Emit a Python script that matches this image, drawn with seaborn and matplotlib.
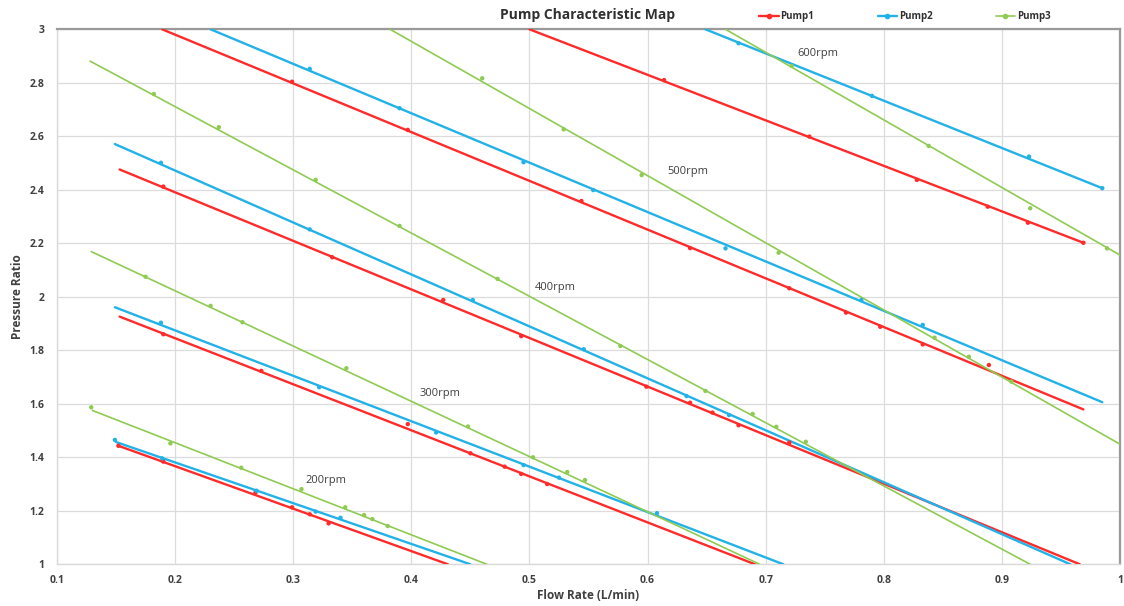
import numpy as np
import pandas as pd
import matplotlib
matplotlib.use("Agg")
import matplotlib.pyplot as plt
from matplotlib.lines import Line2D
from matplotlib.ticker import FixedLocator, FuncFormatter
import seaborn as sns

# ---------------- data ----------------
pumps = ["Pump1", "Pump2", "Pump3"]
rpms = ["200rpm", "300rpm", "400rpm", "500rpm", "600rpm"]

# measured points (markers), per pump and speed
p1_200_x = [0.152, 0.190, 0.268, 0.299, 0.314, 0.330]
p1_200_y = [1.443, 1.384, 1.268, 1.213, 1.187, 1.153]
p1_300_x = [0.190, 0.273, 0.397, 0.450, 0.479, 0.493, 0.515]
p1_300_y = [1.860, 1.723, 1.524, 1.415, 1.365, 1.338, 1.300]
p1_400_x = [0.190, 0.333, 0.427, 0.493, 0.599, 0.636, 0.655, 0.677, 0.720]
p1_400_y = [2.412, 2.148, 1.988, 1.853, 1.664, 1.604, 1.567, 1.520, 1.455]
p1_500_x = [0.299, 0.397, 0.544, 0.636, 0.720, 0.768, 0.797, 0.833, 0.889]
p1_500_y = [2.804, 2.624, 2.358, 2.182, 2.032, 1.941, 1.888, 1.822, 1.745]
p1_600_x = [0.614, 0.737, 0.828, 0.888, 0.922, 0.969]
p1_600_y = [2.810, 2.599, 2.437, 2.337, 2.277, 2.202]

p2_200_x = [0.149, 0.189, 0.269, 0.319, 0.340]
p2_200_y = [1.465, 1.396, 1.275, 1.197, 1.174]
p2_300_x = [0.188, 0.322, 0.421, 0.495, 0.525, 0.608]
p2_300_y = [1.903, 1.662, 1.493, 1.371, 1.324, 1.191]
p2_400_x = [0.188, 0.314, 0.452, 0.546, 0.633, 0.669]
p2_400_y = [2.501, 2.252, 1.988, 1.804, 1.629, 1.558]
p2_500_x = [0.314, 0.390, 0.495, 0.554, 0.666, 0.781, 0.833]
p2_500_y = [2.852, 2.705, 2.503, 2.399, 2.181, 1.988, 1.895]
p2_600_x = [0.677, 0.790, 0.923, 0.985]
p2_600_y = [2.948, 2.751, 2.524, 2.406]

p3_200_x = [0.129, 0.196, 0.256, 0.307, 0.344, 0.360, 0.367, 0.380]
p3_200_y = [1.587, 1.452, 1.361, 1.281, 1.213, 1.184, 1.169, 1.143]
p3_300_x = [0.175, 0.230, 0.257, 0.345, 0.448, 0.503, 0.532, 0.547]
p3_300_y = [2.075, 1.966, 1.905, 1.733, 1.515, 1.400, 1.345, 1.315]
p3_400_x = [0.182, 0.237, 0.319, 0.390, 0.473, 0.577, 0.649, 0.689, 0.709, 0.734]
p3_400_y = [2.758, 2.634, 2.437, 2.265, 2.067, 1.816, 1.648, 1.562, 1.514, 1.458]
p3_500_x = [0.460, 0.529, 0.595, 0.711, 0.843, 0.872, 0.908]
p3_500_y = [2.817, 2.626, 2.455, 2.165, 1.847, 1.776, 1.683]
p3_600_x = [0.722, 0.838, 0.924, 0.989]
p3_600_y = [2.863, 2.564, 2.331, 2.181]

# fitted line ends (start / end of each trend line), ordered by rpms
p1_line_x0 = [0.152, 0.153, 0.153, 0.189, 0.500]
p1_line_y0 = [1.443, 1.926, 2.476, 3.000, 3.000]
p1_line_x1 = [0.431, 0.691, 0.966, 0.969, 0.969]
p1_line_y1 = [1.000, 1.000, 1.000, 1.579, 2.202]

p2_line_x0 = [0.150, 0.149, 0.149, 0.230, 0.649]
p2_line_y0 = [1.457, 1.961, 2.571, 3.000, 3.000]
p2_line_x1 = [0.450, 0.715, 0.958, 0.985, 0.985]
p2_line_y1 = [1.000, 1.000, 1.000, 1.606, 2.406]

p3_line_x0 = [0.130, 0.129, 0.128, 0.382, 0.666]
p3_line_y0 = [1.575, 2.169, 2.881, 3.000, 3.000]
p3_line_x1 = [0.464, 0.695, 0.924, 1.000, 1.000]
p3_line_y1 = [1.000, 1.000, 1.000, 1.449, 2.156]

rpm_label_x = [0.328, 0.424, 0.522, 0.634, 0.744]
rpm_label_y = [1.312, 1.637, 2.033, 2.470, 2.911]

x_ticks = [0.1, 0.2, 0.3, 0.4, 0.5, 0.6, 0.7, 0.8, 0.9, 1.0]
y_ticks = [1.0, 1.2, 1.4, 1.6, 1.8, 2.0, 2.2, 2.4, 2.6, 2.8, 3.0]

# ---------------- build tables ----------------
marker_sets = {
    "Pump1": [(p1_200_x, p1_200_y), (p1_300_x, p1_300_y), (p1_400_x, p1_400_y), (p1_500_x, p1_500_y), (p1_600_x, p1_600_y)],
    "Pump2": [(p2_200_x, p2_200_y), (p2_300_x, p2_300_y), (p2_400_x, p2_400_y), (p2_500_x, p2_500_y), (p2_600_x, p2_600_y)],
    "Pump3": [(p3_200_x, p3_200_y), (p3_300_x, p3_300_y), (p3_400_x, p3_400_y), (p3_500_x, p3_500_y), (p3_600_x, p3_600_y)],
}
line_sets = {
    "Pump1": (p1_line_x0, p1_line_y0, p1_line_x1, p1_line_y1),
    "Pump2": (p2_line_x0, p2_line_y0, p2_line_x1, p2_line_y1),
    "Pump3": (p3_line_x0, p3_line_y0, p3_line_x1, p3_line_y1),
}

mrows, lrows = [], []
for pump in pumps:
    for i, rpm in enumerate(rpms):
        xs, ys = marker_sets[pump][i]
        for xv, yv in zip(xs, ys):
            mrows.append((pump, rpm, xv, yv))
        x0, y0, x1, y1 = line_sets[pump]
        lrows.append((pump, rpm, x0[i], y0[i], 0))
        lrows.append((pump, rpm, x1[i], y1[i], 1))
markers_df = pd.DataFrame(mrows, columns=["pump", "rpm", "flow", "pr"])
lines_df = pd.DataFrame(lrows, columns=["pump", "rpm", "flow", "pr", "order"])

palette = {"Pump1": "#FF2A2A", "Pump2": "#22B2E8", "Pump3": "#8FCB52"}
widths = {"Pump1": 1.7, "Pump2": 1.7, "Pump3": 1.2}

# ---------------- plot ----------------
sns.set_style("white")
plt.rcParams["font.family"] = ["Open Sans", "DejaVu Sans"]

fig = plt.figure(figsize=(11.24, 6.06), dpi=100)
ax = fig.add_axes([57 / 1124, 1 - 564.3 / 606, (1120 - 57) / 1124, (564.3 - 29.3) / 606])

for pump in pumps:
    sub = lines_df[lines_df["pump"] == pump]
    sns.lineplot(data=sub, x="flow", y="pr", units="rpm", estimator=None, sort=False,
                 color=palette[pump], linewidth=widths[pump], ax=ax, legend=False, zorder=3)
sns.scatterplot(data=markers_df, x="flow", y="pr", hue="pump", palette=palette,
                s=10, marker="o", linewidth=0, ax=ax, legend=False, zorder=4)

for lbl, lx, ly in zip(rpms, rpm_label_x, rpm_label_y):
    ax.text(lx, ly, lbl, ha="center", va="center", fontsize=8, color="#404040")

ax.set_xlim(0.1, 1.0)
ax.set_ylim(1.0, 3.0)
ax.xaxis.set_major_locator(FixedLocator(x_ticks))
ax.yaxis.set_major_locator(FixedLocator(y_ticks))
ax.xaxis.set_major_formatter(FuncFormatter(lambda v, p: f"{v:g}"))
ax.yaxis.set_major_formatter(FuncFormatter(lambda v, p: f"{v:g}"))
ax.grid(True, color="#DCDCDC", linewidth=0.9)
ax.set_axisbelow(True)
ax.tick_params(axis="x", length=0, labelsize=7.5, colors="#404040", pad=8)
ax.tick_params(axis="y", length=0, labelsize=7.5, colors="#404040", pad=9)
for t in ax.get_xticklabels() + ax.get_yticklabels():
    t.set_fontweight("bold")

for side in ["left", "bottom"]:
    ax.spines[side].set_color("#D9D9D9")
    ax.spines[side].set_linewidth(1.0)
for side in ["top", "right"]:
    ax.spines[side].set_color("#9A9A9A")
    ax.spines[side].set_linewidth(1.6)

ax.set_xlabel("Flow Rate (L/min)", fontsize=8.5, fontweight="bold", color="#404040", labelpad=2)
ax.set_ylabel("Pressure Ratio", fontsize=8.5, fontweight="bold", color="#404040")
ax.yaxis.set_label_coords(-0.031, 0.5)

fig.text(588 / 1124, 1 - 15 / 606, "Pump Characteristic Map", ha="center", va="center",
         fontsize=10, fontweight="bold", color="#303030")

handles = [Line2D([0], [0], color=palette[p], linewidth=widths[p], marker="o", markersize=3)
           for p in pumps]
leg = fig.legend(handles, pumps, loc="center", bbox_to_anchor=(905 / 1124, 1 - 17 / 606),
                 ncol=3, frameon=False, fontsize=7, handlelength=2.0, handletextpad=0.2,
                 columnspacing=6.5, borderpad=0)
for t in leg.get_texts():
    t.set_fontweight("bold")
    t.set_color("#303030")

fig.savefig("out.png", dpi=100)
